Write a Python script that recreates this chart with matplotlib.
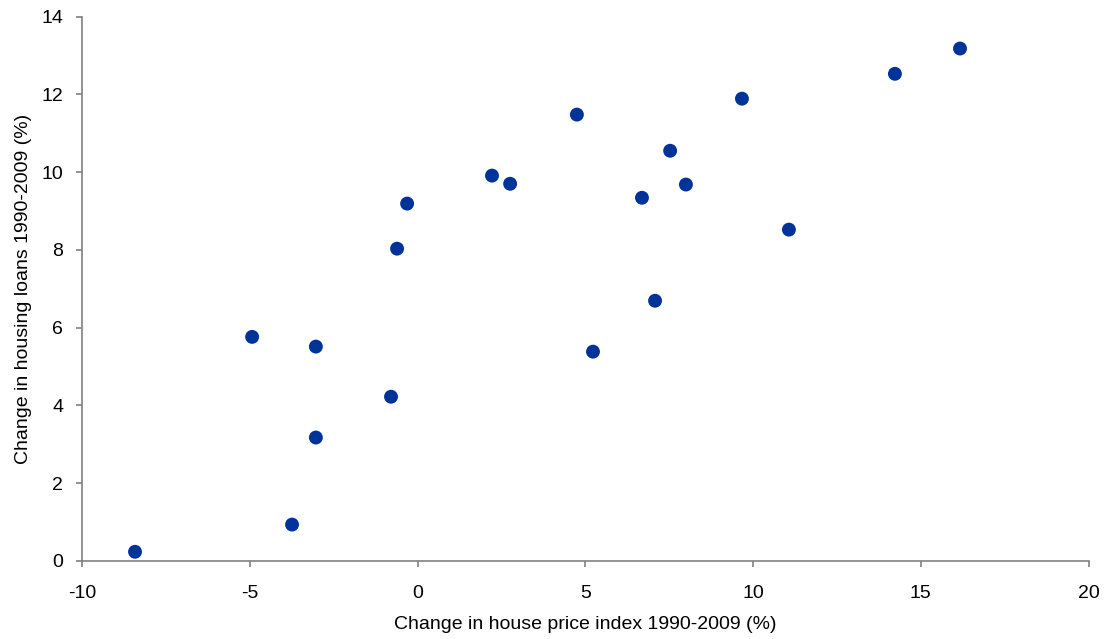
import matplotlib
matplotlib.use("Agg")
import matplotlib.pyplot as plt

plt.rcParams['font.family'] = ['Liberation Sans', 'DejaVu Sans']
plt.rcParams['axes.unicode_minus'] = False

# change in house price index vs change in housing loans, 1990-2009 (%)
house_price = [-8.42, -4.93, -3.03, -3.03, -3.74, -0.79, -0.61, -0.31, 2.22, 2.76,
               4.75, 5.23, 6.69, 7.08, 7.53, 8.00, 9.67, 11.07, 14.23, 16.17]
housing_loans = [0.23, 5.76, 5.51, 3.17, 0.93, 4.22, 8.03, 9.19, 9.91, 9.70,
                 11.48, 5.38, 9.34, 6.69, 10.55, 9.68, 11.89, 8.52, 12.53, 13.18]

x_ticks = [-10, -5, 0, 5, 10, 15, 20]
y_ticks = [0, 2, 4, 6, 8, 10, 12, 14]

fig = plt.figure(figsize=(11.07, 6.39), dpi=100)
ax = fig.add_axes([0.0741, 0.1225, 0.9092, 0.8514])

ax.scatter(house_price, housing_loans, s=100, color='#003399', edgecolors='none', zorder=3)

ax.set_xlim(-10, 20)
ax.set_ylim(0, 14)
ax.set_xticks(x_ticks)
ax.set_yticks(y_ticks)

for side in ['top', 'right']:
    ax.spines[side].set_visible(False)
for side in ['left', 'bottom']:
    ax.spines[side].set_color('#808080')
    ax.spines[side].set_linewidth(1.2)

ax.tick_params(direction='out', length=4.5, width=1.2, color='#808080',
               labelsize=14, labelcolor='black')
ax.tick_params(axis='x', pad=13)
ax.tick_params(axis='y', pad=9)

ax.set_xlabel("Change in house price index 1990-2009 (%)", fontsize=14, labelpad=10)
ax.set_ylabel("Change in housing loans 1990-2009 (%)", fontsize=14, labelpad=7)

fig.savefig("out.png", dpi=100)
